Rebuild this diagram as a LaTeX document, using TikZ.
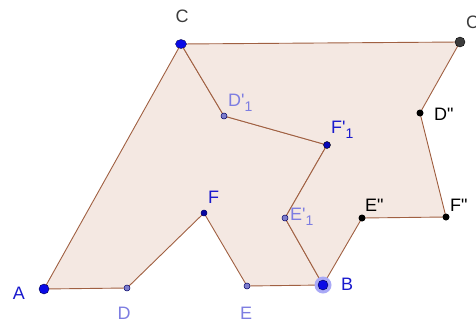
\documentclass[tikz,border=0pt]{standalone}
\usepackage{fontspec}
\setmainfont{Liberation Sans}
\usepackage{xcolor}
\usepackage{tikz}
\usetikzlibrary{shapes.geometric}

\definecolor{edgebrown}{RGB}{160,96,66}
\definecolor{polyfill}{RGB}{244,232,226}
\definecolor{ptblue}{RGB}{10,10,230}
\definecolor{labblue}{RGB}{25,25,205}
\definecolor{ptlight}{RGB}{125,125,205}
\definecolor{lablight}{RGB}{125,125,225}
\definecolor{darkgr}{RGB}{60,60,60}
\newcommand{\idx}[1]{\raisebox{-0.55ex}{\fontsize{14}{14}\selectfont #1}}

\begin{document}
\begin{tikzpicture}[x=1pt, y=-1pt,
  poly/.style={fill=polyfill, draw=edgebrown, line width=0.9pt, line join=round},
  big/.style={circle, fill=ptblue, draw=black!70!blue, line width=0.4pt, inner sep=0pt, minimum size=10pt},
  mid/.style={circle, fill=ptblue!80!black, draw=black, line width=0.4pt, inner sep=0pt, minimum size=7pt},
  small/.style={circle, fill=ptlight, draw=black!60!blue, line width=0.5pt, inner sep=0pt, minimum size=6pt},
  blk/.style={circle, fill=black, inner sep=0pt, minimum size=7pt},
  lab/.style={font=\fontsize{18}{20}\selectfont, inner sep=0pt}]

\useasboundingbox (0,0) rectangle (476,324);
\clip (0,0) rectangle (476,324);

% ---- vertices -------------------------------------------------------------
\coordinate (a)   at (44,289);
\coordinate (d)   at (127,288);
\coordinate (f)   at (204,213);
\coordinate (e)   at (247,286);
\coordinate (b)   at (323,285);
\coordinate (e1)  at (285,218);
\coordinate (f1)  at (327,145);
\coordinate (d1)  at (224,116);
\coordinate (c)   at (181,44);
\coordinate (cc)  at (460,42);
\coordinate (dd)  at (420,113);
\coordinate (ff)  at (446,217);
\coordinate (ee)  at (362,218);

% ---- the two polygons -----------------------------------------------------
\path[poly] (a) -- (d) -- (f) -- (e) -- (b) -- (e1) -- (f1) -- (d1) -- (c) -- cycle;
\path[poly] (c) -- (cc) -- (dd) -- (ff) -- (ee) -- (b) -- (e1) -- (f1) -- (d1) -- cycle;

% ---- points ---------------------------------------------------------------
\fill[ptblue!35] (b) circle (8.5pt);
\node[big] (A) at (a) {};
\node[big, minimum width=11pt, minimum height=9pt, ellipse] (C) at (c) {};
\node[big] (B) at (b) {};
\node[big, fill=darkgr, draw=black] (Cc) at (cc) {};
\node[mid] (F1) at (f1) {};
\node[small, fill=ptblue!70!black, minimum size=6pt] (F) at (f) {};
\node[small] (D) at (d) {};
\node[small] (E) at (e) {};
\node[small] (D1) at (d1) {};
\node[small] (E1) at (e1) {};
\node[blk] (Dd) at (dd) {};
\node[blk] (Ee) at (ee) {};
\node[blk] (Ff) at (ff) {};

% ---- labels ---------------------------------------------------------------
\node[lab, text=labblue] (lA) at (19,293) {A};
\node[lab, text=lablight] (lD) at (124,313) {D};
\node[lab, text=labblue, anchor=west] (lF) at (208,197) {F};
\node[lab, text=lablight] (lE) at (246,313) {E};
\node[lab, text=labblue, anchor=west] (lB) at (341,284) {B};
\node[lab, text=darkgr] (lC) at (182,16) {C};
\node[lab, text=darkgr, anchor=west] (lCc) at (466,22) {C\textquotesingle};
\node[lab, text=black, anchor=west] (lDd) at (434,114) {D\textquotedbl};
\node[lab, text=black, anchor=west] (lEe) at (365,205) {E\textquotedbl};
\node[lab, text=black, anchor=west] (lFf) at (450,205) {F\textquotedbl};
\node[lab, text=lablight, anchor=west] (lD1) at (228,103) {D\textquotesingle\idx{1}};
\node[lab, text=labblue, anchor=west] (lF1) at (331,130) {F\textquotesingle\idx{1}};
\node[lab, text=lablight, anchor=west] (lE1) at (290,217) {E\textquotesingle\idx{1}};

\end{tikzpicture}
\end{document}
